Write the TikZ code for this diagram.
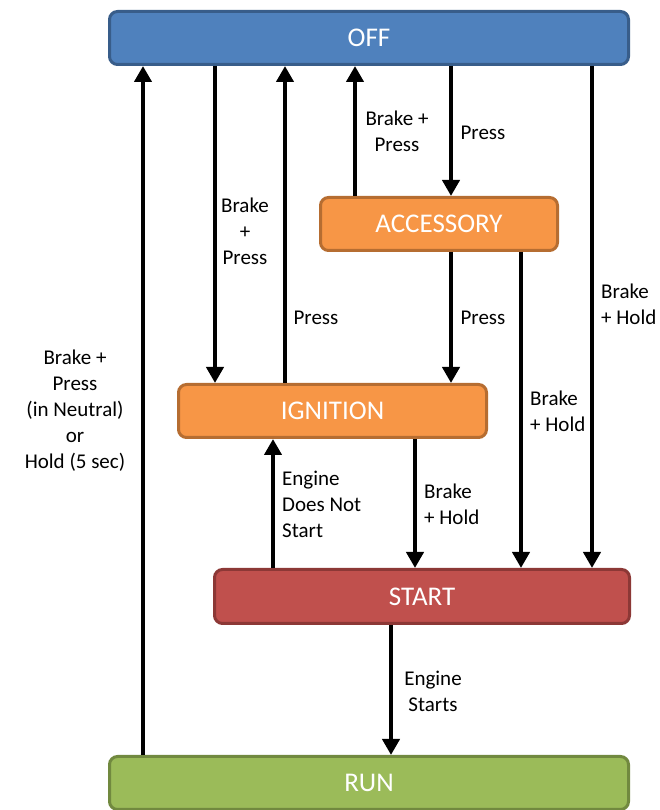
\documentclass[tikz,border=0pt]{standalone}
\usepackage{fontspec}
\setmainfont{Carlito}
\usetikzlibrary{arrows.meta}

\definecolor{offfill}{HTML}{4F81BD}
\definecolor{offline}{HTML}{385D8A}
\definecolor{orfill}{HTML}{F79646}
\definecolor{orline}{HTML}{B66D31}
\definecolor{stfill}{HTML}{C0504D}
\definecolor{stline}{HTML}{8C3836}
\definecolor{runfill}{HTML}{9BBB59}
\definecolor{runline}{HTML}{71893F}

\begin{document}
\begin{tikzpicture}[x=1pt,y=1pt,
  state/.style={draw, line width=3pt, rounded corners=8pt, text=white,
    font=\fontsize{27}{32}\selectfont, inner sep=0pt},
  flow/.style={line width=4.5pt, -{Triangle[width=17pt,length=16pt]}},
  lbl/.style={font=\fontsize{21}{26}\selectfont, inner sep=0pt, align=center},
  lbll/.style={lbl, align=left, anchor=west}]
\useasboundingbox (0,0) rectangle (659,810);

% states
\node[state, fill=offfill, draw=offline, minimum width=519, minimum height=53] (off) at (369,772) {OFF};
\node[state, fill=orfill, draw=orline, minimum width=237, minimum height=53] (acc) at (439,586) {ACCESSORY};
\node[state, fill=orfill, draw=orline, minimum width=308, minimum height=53] (ign) at (332.5,399) {IGNITION};
\node[state, fill=stfill, draw=stline, minimum width=415, minimum height=54] (start) at (422,213.5) {START};
\node[state, fill=runfill, draw=runline, minimum width=519, minimum height=53] (run) at (369,27) {RUN};

% connector columns
\coordinate (cA) at (143,0);
\coordinate (cB) at (215,0);
\coordinate (cC) at (285,0);
\coordinate (cD) at (355,0);
\coordinate (cE) at (451,0);
\coordinate (cF) at (592,0);
\coordinate (cG) at (273,0);
\coordinate (cH) at (415,0);
\coordinate (cI) at (521,0);
\coordinate (cJ) at (391,0);

% transitions
\draw[flow] (run.north -| cA) -- (off.south -| cA);
\draw[flow] (off.south -| cB) -- (ign.north -| cB);
\draw[flow] (ign.north -| cC) -- (off.south -| cC);
\draw[flow] (acc.north -| cD) -- (off.south -| cD);
\draw[flow] (off.south -| cE) -- (acc.north -| cE);
\draw[flow] (acc.south -| cE) -- (ign.north -| cE);
\draw[flow] (acc.south -| cI) -- (start.north -| cI);
\draw[flow] (off.south -| cF) -- (start.north -| cF);
\draw[flow] (start.north -| cG) -- (ign.south -| cG);
\draw[flow] (ign.south -| cH) -- (start.north -| cH);
\draw[flow] (start.south -| cJ) -- (run.north -| cJ);

% transition labels
\node[lbl] (l1) at (75,399) {Brake +\\Press\\(in Neutral)\\or\\Hold (5 sec)};
\node[lbl] (l2) at (245,579) {Brake\\+\\Press};
\node[lbl] (l3) at (316,492) {Press};
\node[lbl] (l4) at (397,679) {Brake +\\Press};
\node[lbl] (l5) at (483,677) {Press};
\node[lbl] (l6) at (483,492) {Press};
\node[lbll] (l7) at (601,506) {Brake\\+ Hold};
\node[lbll] (l8) at (530,399) {Brake\\+ Hold};
\node[lbll] (l9) at (282,306) {Engine\\Does Not\\Start};
\node[lbll] (l10) at (424,305.5) {Brake\\+ Hold};
\node[lbl] (l11) at (433,119) {Engine\\Starts};
\end{tikzpicture}
\end{document}
